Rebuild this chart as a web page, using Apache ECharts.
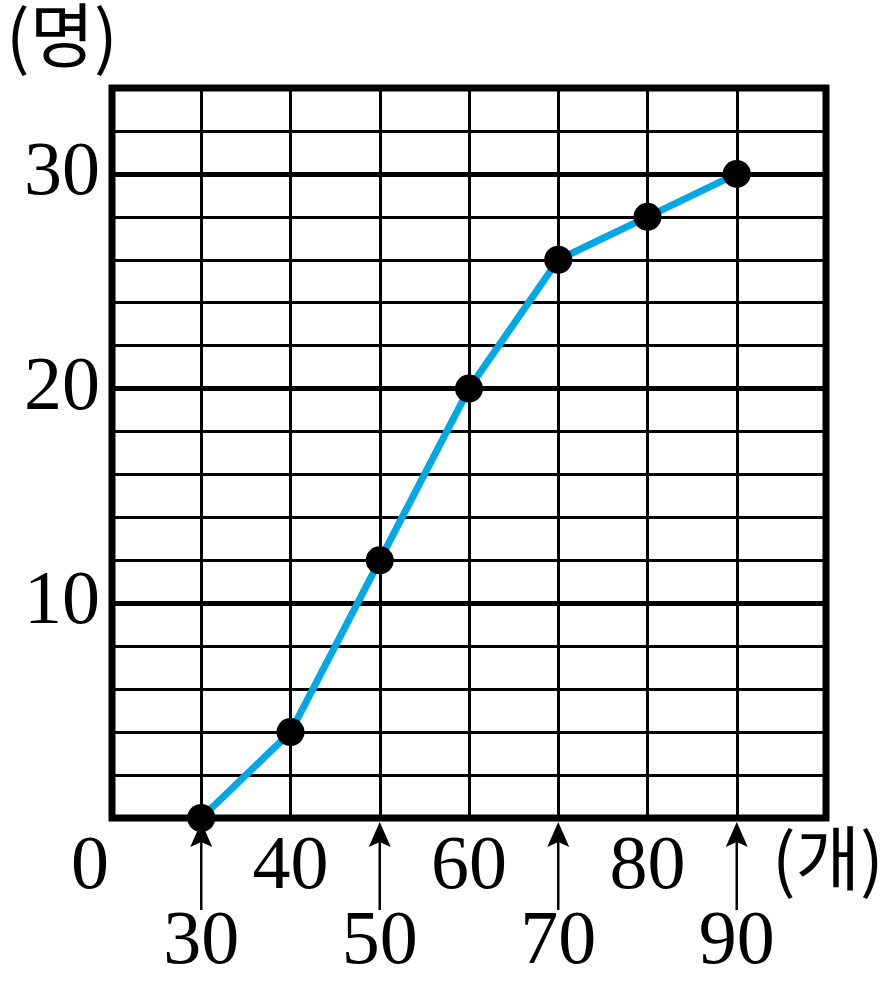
<!DOCTYPE html>
<html><head><meta charset="utf-8">
<script src="https://cdn.jsdelivr.net/npm/echarts@6/dist/echarts.min.js"></script>
<style>html,body{margin:0;padding:0;background:#fff}#c{width:885px;height:989px}</style>
</head><body><div id="c"></div>
<script>
const xValues = [30, 40, 50, 60, 70, 80, 90];
const yValues = [0, 4, 12, 20, 26, 28, 30];
const upperXLabels = [40, 60, 80];
const lowerXLabels = [30, 50, 70, 90];
const yLabels = [10, 20, 30];
const xUnit = '(개)';
const yUnit = '(명)';

const serif = '"Liberation Serif","DejaVu Serif",serif';
const cjk = '"Noto Sans CJK KR","Liberation Serif",serif';
const chart = echarts.init(document.getElementById('c'));
chart.setOption({
  animation: false,
  backgroundColor: '#fff',
  grid: { left: 112, right: 59, top: 88, bottom: 171, show: true, borderColor: '#000', borderWidth: 7, backgroundColor: 'transparent' },
  graphic: [
    { type: 'text', left: 6, top: 0, z: 10, style: { text: yUnit, font: '400 70px ' + cjk, fill: '#000' } },
    { type: 'text', left: 772, top: 823, z: 10, style: { text: xUnit, font: '400 70px ' + cjk, fill: '#000' } }
  ],
  xAxis: {
    type: 'value', min: 20, max: 100, interval: 10,
    axisLine: { show: false }, axisTick: { show: false },
    splitLine: { show: true, lineStyle: { color: '#000', width: 3 } },
    axisLabel: {
      show: true, margin: 12, showMinLabel: true, showMaxLabel: true,
      color: '#000', fontFamily: serif, fontSize: 76,
      formatter: function (v) {
        if (v === 20) return '{z|0}';
        if (upperXLabels.indexOf(v) >= 0) return '{u|' + v + '}';
        if (lowerXLabels.indexOf(v) >= 0) return '{d|' + v + '}';
        return '';
      },
      rich: {
        z: { fontFamily: serif, fontSize: 76, color: '#000', padding: [0, 44, 0, 0] },
        u: { fontFamily: serif, fontSize: 76, color: '#000' },
        d: { fontFamily: serif, fontSize: 76, color: '#000', padding: [75, 0, 0, 0] }
      }
    }
  },
  yAxis: [{
    type: 'value', min: 0, max: 34, interval: 2,
    axisLine: { show: false }, axisTick: { show: false },
    splitLine: { show: true, lineStyle: { color: '#000', width: 3 } },
    axisLabel: {
      margin: 12, color: '#000', fontFamily: serif, fontSize: 76,
      formatter: function (v) { return yLabels.indexOf(v) >= 0 ? String(v) : ''; }
    }
  }, {
    type: 'value', min: 0, max: 34, interval: 10, position: 'left',
    axisLine: { show: false }, axisTick: { show: false }, axisLabel: { show: false },
    splitLine: { show: true, lineStyle: { color: '#000', width: 5 } }
  }],
  series: [{
    type: 'custom', z: 3, clip: false, silent: true,
    data: lowerXLabels.map(function (x) { return [x, 0]; }),
    renderItem: function (params, api) {
      const p = api.coord([api.value(0), api.value(1)]);
      return { type: 'group', children: [
        { type: 'line', shape: { x1: p[0], y1: p[1] + 92, x2: p[0], y2: p[1] + 20 }, style: { stroke: '#000', lineWidth: 2.5 } },
        { type: 'polygon', shape: { points: [[p[0], p[1] + 4], [p[0] + 11, p[1] + 29], [p[0], p[1] + 24], [p[0] - 11, p[1] + 29]] }, style: { fill: '#000' } }
      ] };
    }
  }, {
    type: 'line', z: 5,
    data: xValues.map(function (x, i) { return [x, yValues[i]]; }),
    symbol: 'circle', symbolSize: 28,
    itemStyle: { color: '#000' },
    lineStyle: { color: '#00A8E6', width: 7 }
  }]
});
</script></body></html>
